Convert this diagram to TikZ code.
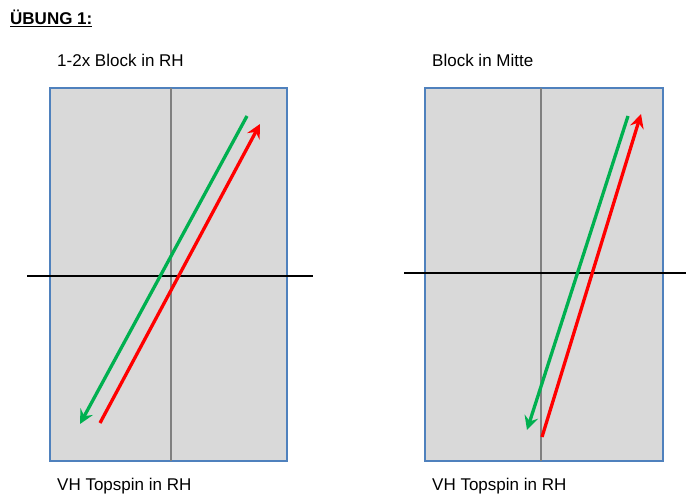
\documentclass[tikz,border=0pt]{standalone}
\usepackage{fontspec}
\setmainfont{Liberation Sans}
\usetikzlibrary{arrows.meta}
\definecolor{boxfill}{HTML}{D9D9D9}
\definecolor{boxedge}{HTML}{4F81BD}
\definecolor{midgrey}{HTML}{808080}
\definecolor{arrgreen}{HTML}{00B050}
\definecolor{arrred}{HTML}{FF0000}
\begin{document}
\begin{tikzpicture}[x=1pt,y=-1pt,
  field/.style={draw=boxedge,fill=boxfill,line width=1.5pt},
  centreline/.style={draw=midgrey,line width=2pt},
  netline/.style={draw=black,line width=1.5pt},
  shot/.style={line width=3.3pt,-{Stealth[length=14pt,width=14pt,inset=5pt]}},
  lbl/.style={anchor=west,inner sep=0pt,font=\fontsize{17}{20}\selectfont}]
\useasboundingbox (0,0) rectangle (697,500);
% title
\node[lbl,font=\fontsize{17}{20}\selectfont\bfseries] (title) at (10,18) {\underline{ÜBUNG 1:}};
% left field
\node[lbl] (tl) at (57,60) {1-2x Block in RH};
\node[lbl] (bl) at (57,486) {VH Topspin in RH};
\path[field] (50,88) rectangle (287,461);
\coordinate (lct) at (171,88); \coordinate (lcb) at (171,461);
\draw[centreline] (lct) -- (lcb);
\coordinate (lnl) at (27,276); \coordinate (lnr) at (313,276);
\draw[netline] (lnl) -- (lnr);
\coordinate (lg1) at (247,116); \coordinate (lg2) at (80,424);
\coordinate (lr1) at (100,423); \coordinate (lr2) at (260,124);
\draw[shot,arrgreen] (lg1) -- (lg2);
\draw[shot,arrred] (lr1) -- (lr2);
% right field
\node[lbl] (tr) at (432,60) {Block in Mitte};
\node[lbl] (br) at (432,486) {VH Topspin in RH};
\path[field] (425,88) rectangle (663,461);
\coordinate (rct) at (541,88); \coordinate (rcb) at (541,461);
\draw[centreline] (rct) -- (rcb);
\coordinate (rnl) at (404,273); \coordinate (rnr) at (686,273);
\draw[netline] (rnl) -- (rnr);
\coordinate (rg1) at (628,116); \coordinate (rg2) at (527,430);
\coordinate (rr1) at (542,437); \coordinate (rr2) at (641,114);
\draw[shot,arrgreen] (rg1) -- (rg2);
\draw[shot,arrred] (rr1) -- (rr2);
\end{tikzpicture}
\end{document}
